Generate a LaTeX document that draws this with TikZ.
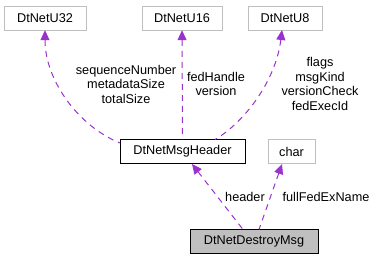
\documentclass[tikz,border=0pt]{standalone}
\usepackage{fontspec}
\setmainfont{Liberation Sans}
\usetikzlibrary{arrows.meta}
\definecolor{edgec}{HTML}{9A32CD}
\definecolor{grayb}{HTML}{BFBFBF}
\begin{document}
\begin{tikzpicture}[x=1pt,y=-1pt,
  box/.style={draw=grayb,fill=white,minimum height=24pt,inner sep=0pt,font=\fontsize{12.7}{14.5}\selectfont},
  docbox/.style={box,draw=black},
  edge/.style={draw=edgec,dashed,dash pattern=on 6pt off 5pt,line width=1pt,{Triangle[length=10pt,width=9pt]}-},
  lbl/.style={font=\fontsize{12.7}{14.5}\selectfont,align=center,inner sep=0pt}]
\useasboundingbox (0,0) rectangle (377,261);
\node[box,minimum width=82pt] (u32) at (45,18) {DtNetU32};
\node[box,minimum width=80pt] (u16) at (182,18) {DtNetU16};
\node[box,minimum width=74pt] (u8) at (285,18) {DtNetU8};
\node[docbox,minimum width=125pt] (hdr) at (182.5,151.5) {DtNetMsgHeader};
\node[box,minimum width=47pt] (chr) at (291.5,151.5) {char};
\node[docbox,fill=grayb,minimum width=128pt] (dm) at (254,241.5) {DtNetDestroyMsg};
\coordinate (h1) at (120,143);
\coordinate (h3) at (215,139.5);
\coordinate (d1) at (243,229.5);
\coordinate (d2) at (259,229.5);
\draw[edge] (u32.south) .. controls (45,80) and (78,126) .. (h1);
\draw[edge] (u16.south) -- (hdr.north);
\draw[edge] (282,30) .. controls (276,80) and (245,122) .. (h3);
\draw[edge] (192,164) -- (d1);
\draw[edge] (282,164) -- (d2);
\node[lbl] (l1) at (126,84) {sequenceNumber\\metadataSize\\totalSize};
\node[lbl] (l2) at (216,84) {fedHandle\\version};
\node[lbl] (l3) at (320,84) {flags\\msgKind\\versionCheck\\fedExecId};
\node[lbl] (l4) at (245,197) {header};
\node[lbl] (l5) at (326,197) {fullFedExName};
\end{tikzpicture}
\end{document}
